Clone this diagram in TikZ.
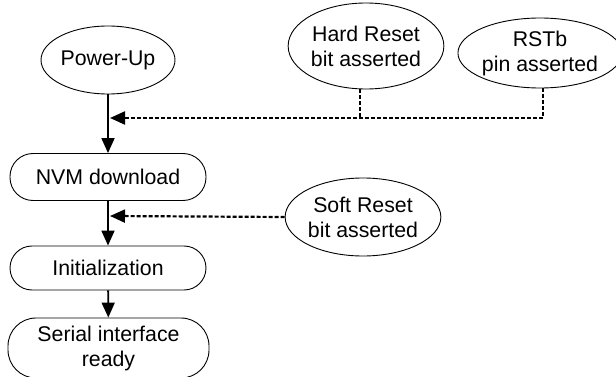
\documentclass[tikz,border=0pt]{standalone}
\usepackage{fontspec}
\setmainfont{Liberation Sans}
\usetikzlibrary{arrows.meta,shapes.geometric}
\begin{document}
\begin{tikzpicture}[x=1pt,y=-1pt,
  every node/.style={font=\fontsize{21.3}{25}\selectfont, align=center, inner sep=0pt},
  oval/.style={draw, ellipse, line width=0.9pt},
  stadium/.style={draw, rectangle, line width=0.9pt},
  flow/.style={line width=1.8pt, -{Triangle[length=15pt,width=13pt]}},
  sig/.style={line width=2.2pt, dash pattern=on 4pt off 2pt},
  sigarrow/.style={sig, -{Triangle[length=15pt,width=13pt]}}]
\useasboundingbox (0,0) rectangle (616,377);
\node[oval, minimum width=134pt, minimum height=68pt] (pu) at (108,60) {Power-Up};
\node[oval, minimum width=146pt, minimum height=86pt] (hard) at (366,46) {Hard Reset\\bit asserted};
\node[oval, minimum width=149pt, minimum height=70pt] (rstb) at (540,53) {RSTb\\pin asserted};
\node[oval, minimum width=145pt, minimum height=78pt] (soft) at (363,217) {Soft Reset\\bit asserted};
\node[stadium, rounded corners=23pt, minimum width=196pt, minimum height=47pt] (nvm) at (108,177) {NVM download};
\node[stadium, rounded corners=22pt, minimum width=196pt, minimum height=44pt] (init) at (108,268) {Initialization};
\node[stadium, rounded corners=28pt, minimum width=201pt, minimum height=60pt] (ser) at (108.5,348) {Serial interface\\ready};
\coordinate (j1) at (110,118);
\coordinate (j2) at (110,216);
\draw[flow] (pu) -- (nvm);
\draw[flow] (nvm) -- (init);
\draw[flow] (init) -- (ser);
\draw[sigarrow] ([xshift=3pt]rstb.south) |- (j1);
\draw[sig] ([xshift=-6pt]hard.south) -- ([xshift=-6pt]hard.south |- j1);
\draw[sigarrow] (soft.west) -- (j2);
\end{tikzpicture}
\end{document}
